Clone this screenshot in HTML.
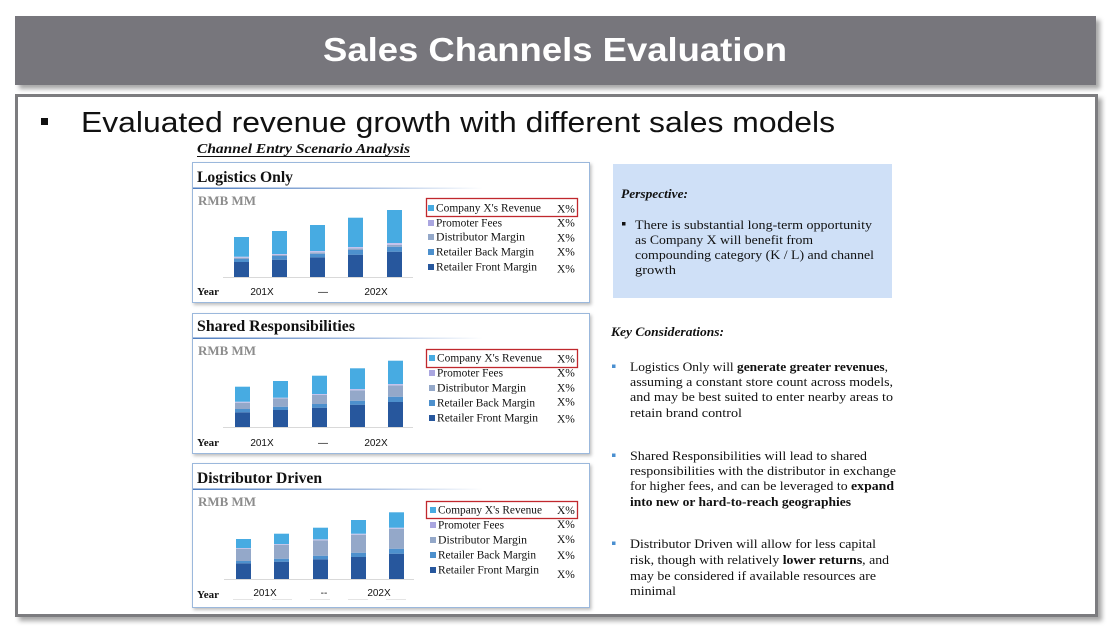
<!DOCTYPE html>
<html><head><meta charset="utf-8"><style>
html,body{margin:0;padding:0;background:#fff;}
svg{display:block;}
.serif{font-family:"Liberation Serif",serif;}
.sans{font-family:"Liberation Sans",sans-serif;}
</style></head><body>
<svg width="1116" height="638" viewBox="0 0 1116 638" xmlns="http://www.w3.org/2000/svg">
<defs>
<filter id="sh" x="-5%" y="-10%" width="115%" height="130%">
<feDropShadow dx="4" dy="4" stdDeviation="2.5" flood-color="#000" flood-opacity="0.35"/>
</filter>
<filter id="sh2" x="-5%" y="-10%" width="115%" height="130%">
<feDropShadow dx="1.5" dy="2" stdDeviation="1.5" flood-color="#000" flood-opacity="0.25"/>
</filter>
<linearGradient id="ul" x1="0" x2="1" y1="0" y2="0">
<stop offset="0" stop-color="#4f7dbf"/>
<stop offset="0.6" stop-color="#a9c0e2"/>
<stop offset="1" stop-color="#ffffff"/>
</linearGradient>
</defs>

<!-- header -->
<rect x="15" y="16" width="1081" height="69" fill="#77767b" filter="url(#sh)"/>
<text x="323" y="61" class="sans" font-size="33" font-weight="bold" fill="#fff" textLength="464" lengthAdjust="spacingAndGlyphs">Sales Channels Evaluation</text>

<!-- content frame -->
<rect x="16.5" y="95.5" width="1080" height="520" fill="#fff" stroke="#7b7b7f" stroke-width="3" filter="url(#sh)"/>

<rect x="41" y="118" width="7" height="7" fill="#111"/>
<text x="81" y="132" class="sans" font-size="29" fill="#111" textLength="754" lengthAdjust="spacingAndGlyphs">Evaluated revenue growth with different sales models</text>

<text x="197" y="153" class="serif" font-size="14" font-weight="bold" font-style="italic" fill="#111" textLength="213" lengthAdjust="spacingAndGlyphs">Channel Entry Scenario Analysis</text>
<line x1="197" y1="156.5" x2="410" y2="156.5" stroke="#111" stroke-width="1"/>

<!-- PANEL 1 -->
<rect x="192.5" y="162.5" width="397" height="140" fill="#fff" stroke="#9bb8dc" stroke-width="1" filter="url(#sh2)"/>
<text x="197" y="182" class="serif" font-size="16" font-weight="bold" fill="#111" textLength="96" lengthAdjust="spacingAndGlyphs">Logistics Only</text>
<rect x="193" y="187.5" width="290" height="1.5" fill="url(#ul)"/>
<text x="198" y="205" class="serif" font-size="13" font-weight="bold" fill="#8c8c8c" textLength="58" lengthAdjust="spacingAndGlyphs">RMB MM</text>
<line x1="223" y1="277.5" x2="413" y2="277.5" stroke="#d9d9d9" stroke-width="1"/>
<g>
<rect x="234" y="262" width="15" height="15" fill="#27579d"/>
<rect x="234" y="259" width="15" height="3" fill="#4d90cd"/>
<rect x="234" y="257.7" width="15" height="1.3" fill="#94a8c9"/>
<rect x="234" y="256.7" width="15" height="1" fill="#c5c3ec"/>
<rect x="234" y="237" width="15" height="19.7" fill="#47abe2"/>
<rect x="272" y="259.7" width="15" height="17.3" fill="#27579d"/>
<rect x="272" y="256" width="15" height="3.7" fill="#4d90cd"/>
<rect x="272" y="255" width="15" height="1" fill="#94a8c9"/>
<rect x="272" y="254" width="15" height="1" fill="#c5c3ec"/>
<rect x="272" y="231" width="15" height="23" fill="#47abe2"/>
<rect x="310" y="257.3" width="15" height="19.7" fill="#27579d"/>
<rect x="310" y="253.7" width="15" height="3.6" fill="#4d90cd"/>
<rect x="310" y="252.3" width="15" height="1.4" fill="#94a8c9"/>
<rect x="310" y="251" width="15" height="1.3" fill="#c5c3ec"/>
<rect x="310" y="225" width="15" height="26" fill="#47abe2"/>
<rect x="348" y="254.7" width="15" height="22.3" fill="#27579d"/>
<rect x="348" y="250" width="15" height="4.7" fill="#4d90cd"/>
<rect x="348" y="248.3" width="15" height="1.7" fill="#94a8c9"/>
<rect x="348" y="247" width="15" height="1.3" fill="#c5c3ec"/>
<rect x="348" y="217.7" width="15" height="29.3" fill="#47abe2"/>
<rect x="387" y="251.7" width="15" height="25.3" fill="#27579d"/>
<rect x="387" y="246.7" width="15" height="5" fill="#4d90cd"/>
<rect x="387" y="245" width="15" height="1.7" fill="#94a8c9"/>
<rect x="387" y="243" width="15" height="2" fill="#c5c3ec"/>
<rect x="387" y="210" width="15" height="33" fill="#47abe2"/>
</g>
<rect x="426.5" y="198.5" width="151" height="18" fill="none" stroke="#c0282d" stroke-width="1.3"/>
<g class="serif" font-size="11.5" fill="#111">
<rect x="428" y="205" width="6" height="6" fill="#47abe2"/>
<text x="436" y="211.5" textLength="105" lengthAdjust="spacingAndGlyphs">Company X's Revenue</text>
<rect x="428" y="220" width="6" height="6" fill="#aaa6e0"/>
<text x="436" y="226.5" textLength="66" lengthAdjust="spacingAndGlyphs">Promoter Fees</text>
<rect x="428" y="234" width="6" height="6" fill="#94a8c9"/>
<text x="436" y="240.5" textLength="89" lengthAdjust="spacingAndGlyphs">Distributor Margin</text>
<rect x="428" y="249" width="6" height="6" fill="#4d90cd"/>
<text x="436" y="255.5" textLength="98" lengthAdjust="spacingAndGlyphs">Retailer Back Margin</text>
<rect x="428" y="264" width="6" height="6" fill="#27579d"/>
<text x="436" y="270.5" textLength="101" lengthAdjust="spacingAndGlyphs">Retailer Front Margin</text>
<text x="557" y="212.5">X%</text>
<text x="557" y="226.5">X%</text>
<text x="557" y="241.5">X%</text>
<text x="557" y="255.5">X%</text>
<text x="557" y="272.5">X%</text>
</g>
<text x="197" y="295" class="serif" font-size="11" font-weight="bold" fill="#111">Year</text>
<g class="sans" font-size="10" fill="#111" text-anchor="middle">
<text x="262" y="295">201X</text>
<text x="323" y="295">—</text>
<text x="376" y="295">202X</text>
</g>

<!-- PANEL 2 -->
<rect x="192.5" y="313.5" width="397" height="140" fill="#fff" stroke="#9bb8dc" stroke-width="1" filter="url(#sh2)"/>
<text x="197" y="331" class="serif" font-size="16" font-weight="bold" fill="#111" textLength="158" lengthAdjust="spacingAndGlyphs">Shared Responsibilities</text>
<rect x="193" y="337.5" width="290" height="1.5" fill="url(#ul)"/>
<text x="198" y="355" class="serif" font-size="13" font-weight="bold" fill="#8c8c8c" textLength="58" lengthAdjust="spacingAndGlyphs">RMB MM</text>
<line x1="223" y1="427.5" x2="413" y2="427.5" stroke="#d9d9d9" stroke-width="1"/>
<g>
<rect x="235" y="412.3" width="15" height="14.7" fill="#27579d"/>
<rect x="235" y="409" width="15" height="3.3" fill="#4d90cd"/>
<rect x="235" y="402.7" width="15" height="6.3" fill="#94a8c9"/>
<rect x="235" y="401.7" width="15" height="1" fill="#c5c3ec"/>
<rect x="235" y="386.7" width="15" height="15" fill="#47abe2"/>
<rect x="273" y="410" width="15" height="17" fill="#27579d"/>
<rect x="273" y="406.7" width="15" height="3.3" fill="#4d90cd"/>
<rect x="273" y="398.3" width="15" height="8.4" fill="#94a8c9"/>
<rect x="273" y="397.7" width="15" height="0.6" fill="#c5c3ec"/>
<rect x="273" y="381" width="15" height="16.7" fill="#47abe2"/>
<rect x="312" y="407.7" width="15" height="19.3" fill="#27579d"/>
<rect x="312" y="404" width="15" height="3.7" fill="#4d90cd"/>
<rect x="312" y="395" width="15" height="9" fill="#94a8c9"/>
<rect x="312" y="394" width="15" height="1" fill="#c5c3ec"/>
<rect x="312" y="375.7" width="15" height="18.3" fill="#47abe2"/>
<rect x="350" y="404.7" width="15" height="22.3" fill="#27579d"/>
<rect x="350" y="400.7" width="15" height="4" fill="#4d90cd"/>
<rect x="350" y="390.3" width="15" height="10.4" fill="#94a8c9"/>
<rect x="350" y="389" width="15" height="1.3" fill="#c5c3ec"/>
<rect x="350" y="368.3" width="15" height="20.7" fill="#47abe2"/>
<rect x="388" y="402" width="15" height="25" fill="#27579d"/>
<rect x="388" y="396.7" width="15" height="5.3" fill="#4d90cd"/>
<rect x="388" y="385.3" width="15" height="11.4" fill="#94a8c9"/>
<rect x="388" y="384" width="15" height="1.3" fill="#c5c3ec"/>
<rect x="388" y="360.7" width="15" height="23.3" fill="#47abe2"/>
</g>
<rect x="426.5" y="349.5" width="151" height="18" fill="none" stroke="#c0282d" stroke-width="1.3"/>
<g class="serif" font-size="11.5" fill="#111">
<rect x="429" y="355" width="6" height="6" fill="#47abe2"/>
<text x="437" y="361.5" textLength="105" lengthAdjust="spacingAndGlyphs">Company X's Revenue</text>
<rect x="429" y="370" width="6" height="6" fill="#aaa6e0"/>
<text x="437" y="376.5" textLength="66" lengthAdjust="spacingAndGlyphs">Promoter Fees</text>
<rect x="429" y="385" width="6" height="6" fill="#94a8c9"/>
<text x="437" y="391.5" textLength="89" lengthAdjust="spacingAndGlyphs">Distributor Margin</text>
<rect x="429" y="400" width="6" height="6" fill="#4d90cd"/>
<text x="437" y="406.5" textLength="98" lengthAdjust="spacingAndGlyphs">Retailer Back Margin</text>
<rect x="429" y="415" width="6" height="6" fill="#27579d"/>
<text x="437" y="421.5" textLength="101" lengthAdjust="spacingAndGlyphs">Retailer Front Margin</text>
<text x="557" y="362.5">X%</text>
<text x="557" y="376.5">X%</text>
<text x="557" y="391.5">X%</text>
<text x="557" y="405.5">X%</text>
<text x="557" y="422.5">X%</text>
</g>
<text x="197" y="446" class="serif" font-size="11" font-weight="bold" fill="#111">Year</text>
<g class="sans" font-size="10" fill="#111" text-anchor="middle">
<text x="262" y="446">201X</text>
<text x="323" y="446">—</text>
<text x="376" y="446">202X</text>
</g>

<!-- PANEL 3 -->
<rect x="192.5" y="463.5" width="397" height="144" fill="#fff" stroke="#9bb8dc" stroke-width="1" filter="url(#sh2)"/>
<text x="197" y="483" class="serif" font-size="16" font-weight="bold" fill="#111" textLength="125" lengthAdjust="spacingAndGlyphs">Distributor Driven</text>
<rect x="193" y="488.5" width="290" height="1.5" fill="url(#ul)"/>
<text x="198" y="506" class="serif" font-size="13" font-weight="bold" fill="#8c8c8c" textLength="58" lengthAdjust="spacingAndGlyphs">RMB MM</text>
<line x1="224" y1="579.5" x2="414" y2="579.5" stroke="#d9d9d9" stroke-width="1"/>
<g>
<rect x="236" y="563.3" width="15" height="15.7" fill="#27579d"/>
<rect x="236" y="561" width="15" height="2.3" fill="#4d90cd"/>
<rect x="236" y="548.7" width="15" height="12.3" fill="#94a8c9"/>
<rect x="236" y="548" width="15" height="0.7" fill="#c5c3ec"/>
<rect x="236" y="539" width="15" height="9" fill="#47abe2"/>
<rect x="274" y="561.7" width="15" height="17.3" fill="#27579d"/>
<rect x="274" y="558.7" width="15" height="3" fill="#4d90cd"/>
<rect x="274" y="544.7" width="15" height="14" fill="#94a8c9"/>
<rect x="274" y="544" width="15" height="0.7" fill="#c5c3ec"/>
<rect x="274" y="533.7" width="15" height="10.3" fill="#47abe2"/>
<rect x="313" y="559.3" width="15" height="19.7" fill="#27579d"/>
<rect x="313" y="555.7" width="15" height="3.6" fill="#4d90cd"/>
<rect x="313" y="540.3" width="15" height="15.4" fill="#94a8c9"/>
<rect x="313" y="539.3" width="15" height="1" fill="#c5c3ec"/>
<rect x="313" y="527.7" width="15" height="11.6" fill="#47abe2"/>
<rect x="351" y="557" width="15" height="22" fill="#27579d"/>
<rect x="351" y="552.7" width="15" height="4.3" fill="#4d90cd"/>
<rect x="351" y="534.7" width="15" height="18" fill="#94a8c9"/>
<rect x="351" y="533.7" width="15" height="1" fill="#c5c3ec"/>
<rect x="351" y="520" width="15" height="13.7" fill="#47abe2"/>
<rect x="389" y="553.7" width="15" height="25.3" fill="#27579d"/>
<rect x="389" y="548.7" width="15" height="5" fill="#4d90cd"/>
<rect x="389" y="528.7" width="15" height="20" fill="#94a8c9"/>
<rect x="389" y="527.7" width="15" height="1" fill="#c5c3ec"/>
<rect x="389" y="512.3" width="15" height="15.4" fill="#47abe2"/>
</g>
<rect x="426.5" y="501.5" width="151" height="17" fill="none" stroke="#c0282d" stroke-width="1.3"/>
<g class="serif" font-size="11.5" fill="#111">
<rect x="430" y="507" width="6" height="6" fill="#47abe2"/>
<text x="438" y="513.5" textLength="104" lengthAdjust="spacingAndGlyphs">Company X's Revenue</text>
<rect x="430" y="522" width="6" height="6" fill="#aaa6e0"/>
<text x="438" y="528.5" textLength="66" lengthAdjust="spacingAndGlyphs">Promoter Fees</text>
<rect x="430" y="537" width="6" height="6" fill="#94a8c9"/>
<text x="438" y="543.5" textLength="89" lengthAdjust="spacingAndGlyphs">Distributor Margin</text>
<rect x="430" y="552" width="6" height="6" fill="#4d90cd"/>
<text x="438" y="558.5" textLength="98" lengthAdjust="spacingAndGlyphs">Retailer Back Margin</text>
<rect x="430" y="567" width="6" height="6" fill="#27579d"/>
<text x="438" y="573.5" textLength="101" lengthAdjust="spacingAndGlyphs">Retailer Front Margin</text>
<text x="557" y="514">X%</text>
<text x="557" y="528">X%</text>
<text x="557" y="543">X%</text>
<text x="557" y="559">X%</text>
<text x="557" y="578">X%</text>
</g>
<text x="197" y="598" class="serif" font-size="11" font-weight="bold" fill="#111">Year</text>
<g class="sans" font-size="10" fill="#111" text-anchor="middle">
<text x="265" y="596">201X</text>
<text x="324" y="596">--</text>
<text x="379" y="596">202X</text>
</g>
<g stroke="#e4e4e4" stroke-width="1">
<line x1="233" y1="599.5" x2="253" y2="599.5"/><line x1="272" y1="599.5" x2="292" y2="599.5"/>
<line x1="310" y1="599.5" x2="330" y2="599.5"/><line x1="348" y1="599.5" x2="368" y2="599.5"/>
<line x1="386" y1="599.5" x2="406" y2="599.5"/>
</g>

<!-- RIGHT SIDE -->
<rect x="613" y="164" width="279" height="134" fill="#cfe0f7"/>
<text x="621" y="198" class="serif" font-size="12.5" font-weight="bold" font-style="italic" fill="#111" textLength="67" lengthAdjust="spacingAndGlyphs">Perspective:</text>
<rect x="622" y="222" width="3.5" height="3.5" fill="#111"/>
<g class="serif" font-size="12.5" fill="#111">
<text x="635" y="229" textLength="237" lengthAdjust="spacingAndGlyphs">There is substantial long-term opportunity</text>
<text x="635" y="244" textLength="178" lengthAdjust="spacingAndGlyphs">as Company X will benefit from</text>
<text x="635" y="259" textLength="239" lengthAdjust="spacingAndGlyphs">compounding category (K / L) and channel</text>
<text x="635" y="274" textLength="41" lengthAdjust="spacingAndGlyphs">growth</text>
</g>

<text x="611" y="336" class="serif" font-size="12.5" font-weight="bold" font-style="italic" fill="#111" textLength="113" lengthAdjust="spacingAndGlyphs">Key Considerations:</text>

<g fill="#4a8fd0">
<rect x="612" y="364.5" width="3.5" height="3.5"/>
<rect x="612" y="453.5" width="3.5" height="3.5"/>
<rect x="612" y="541.5" width="3.5" height="3.5"/>
</g>
<g class="serif" font-size="12.5" fill="#111">
<text x="630" y="371" textLength="258" lengthAdjust="spacingAndGlyphs">Logistics Only will <tspan font-weight="bold">generate greater revenues</tspan>,</text>
<text x="630" y="386" textLength="263" lengthAdjust="spacingAndGlyphs">assuming a constant store count across models,</text>
<text x="630" y="401" textLength="263" lengthAdjust="spacingAndGlyphs">and may be best suited to enter nearby areas to</text>
<text x="630" y="417" textLength="112" lengthAdjust="spacingAndGlyphs">retain brand control</text>

<text x="630" y="460" textLength="237" lengthAdjust="spacingAndGlyphs">Shared Responsibilities will lead to shared</text>
<text x="630" y="475" textLength="266" lengthAdjust="spacingAndGlyphs">responsibilities with the distributor in exchange</text>
<text x="630" y="490" textLength="264" lengthAdjust="spacingAndGlyphs">for higher fees, and can be leveraged to <tspan font-weight="bold">expand</tspan></text>
<text x="630" y="506" font-weight="bold" textLength="221" lengthAdjust="spacingAndGlyphs">into new or hard-to-reach geographies</text>

<text x="630" y="548" textLength="246" lengthAdjust="spacingAndGlyphs">Distributor Driven will allow for less capital</text>
<text x="630" y="564" textLength="259" lengthAdjust="spacingAndGlyphs">risk, though with relatively <tspan font-weight="bold">lower returns</tspan>, and</text>
<text x="630" y="580" textLength="246" lengthAdjust="spacingAndGlyphs">may be considered if available resources are</text>
<text x="630" y="595" textLength="46" lengthAdjust="spacingAndGlyphs">minimal</text>
</g>
</svg>
</body></html>
